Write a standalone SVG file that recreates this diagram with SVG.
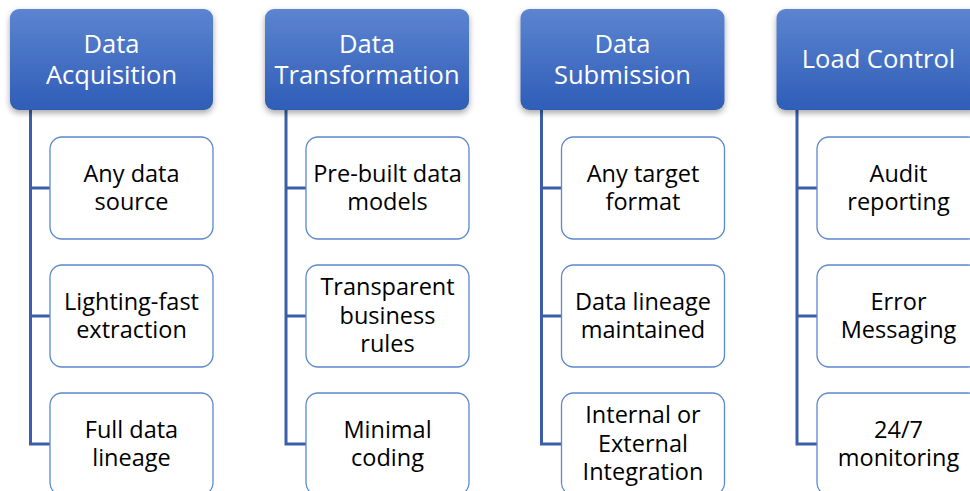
<svg xmlns="http://www.w3.org/2000/svg" width="970" height="491" viewBox="0 0 970 491">
<defs>
<linearGradient id="hg" x1="0" y1="0" x2="0" y2="1">
<stop offset="0" stop-color="#5C84D0"/>
<stop offset="1" stop-color="#2F5DB7"/>
</linearGradient>
<filter id="sh" x="-10%" y="-10%" width="120%" height="130%">
<feDropShadow dx="0" dy="3" stdDeviation="3" flood-color="#000" flood-opacity="0.35"/>
</filter>
<style>
.hd{fill:url(#hg);filter:url(#sh)}
.ch{fill:#fff;stroke:#5B87D3;stroke-width:1.3}
.ht{font-family:"Open Sans","Liberation Sans",sans-serif;font-size:25.5px;font-weight:400;fill:#fff;text-anchor:middle}
.ct{font-family:"Open Sans","Liberation Sans",sans-serif;font-size:23.5px;fill:#000;text-anchor:middle}
.cn{fill:none;stroke:#3A5FA8;stroke-width:3}
</style>
</defs>
<g id="connectors">
<path class="cn" d="M30.5 110V444M29 188H50M29 316H50M29 444H50"/>
<path class="cn" d="M286 110V444M284.5 188H306M284.5 316H306M284.5 444H306"/>
<path class="cn" d="M541.5 110V444M540 188H561M540 316H561M540 444H561"/>
<path class="cn" d="M797 110V444M795.5 188H817M795.5 316H817M795.5 444H817"/>
</g>
<g id="h1"><rect class="hd" x="10" y="9" width="203" height="101" rx="9"/><text class="ht" x="111.5" y="53">Data</text><text class="ht" x="111.5" y="84">Acquisition</text></g>
<g id="h2"><rect class="hd" x="265" y="9" width="204" height="101" rx="9"/><text class="ht" x="367" y="53">Data</text><text class="ht" x="367" y="84">Transformation</text></g>
<g id="h3"><rect class="hd" x="520.5" y="9" width="204" height="101" rx="9"/><text class="ht" x="622.5" y="53">Data</text><text class="ht" x="622.5" y="84">Submission</text></g>
<g id="h4"><rect class="hd" x="776.5" y="9" width="204" height="101" rx="9"/><text class="ht" x="878.5" y="68">Load Control</text></g>

<g id="c1a"><rect class="ch" x="50" y="137" width="163" height="102" rx="12"/><text class="ct" x="131.5" y="182">Any data</text><text class="ct" x="131.5" y="210">source</text></g>
<g id="c1b"><rect class="ch" x="50" y="265" width="163" height="102" rx="12"/><text class="ct" x="131.5" y="310">Lighting-fast</text><text class="ct" x="131.5" y="338">extraction</text></g>
<g id="c1c"><rect class="ch" x="50" y="393" width="163" height="102" rx="12"/><text class="ct" x="131.5" y="438">Full data</text><text class="ct" x="131.5" y="466">lineage</text></g>

<g id="c2a"><rect class="ch" x="306" y="137" width="163" height="102" rx="12"/><text class="ct" x="387.5" y="182">Pre-built data</text><text class="ct" x="387.5" y="210">models</text></g>
<g id="c2b"><rect class="ch" x="306" y="265" width="163" height="102" rx="12"/><text class="ct" x="387.5" y="295">Transparent</text><text class="ct" x="387.5" y="324">business</text><text class="ct" x="387.5" y="352">rules</text></g>
<g id="c2c"><rect class="ch" x="306" y="393" width="163" height="102" rx="12"/><text class="ct" x="387.5" y="438">Minimal</text><text class="ct" x="387.5" y="466">coding</text></g>

<g id="c3a"><rect class="ch" x="561.5" y="137" width="163" height="102" rx="12"/><text class="ct" x="643" y="182">Any target</text><text class="ct" x="643" y="210">format</text></g>
<g id="c3b"><rect class="ch" x="561.5" y="265" width="163" height="102" rx="12"/><text class="ct" x="643" y="310">Data lineage</text><text class="ct" x="643" y="338">maintained</text></g>
<g id="c3c"><rect class="ch" x="561.5" y="393" width="163" height="102" rx="12"/><text class="ct" x="643" y="423">Internal or</text><text class="ct" x="643" y="452">External</text><text class="ct" x="643" y="480">Integration</text></g>

<g id="c4a"><rect class="ch" x="817" y="137" width="163" height="102" rx="12"/><text class="ct" x="898.5" y="182">Audit</text><text class="ct" x="898.5" y="210">reporting</text></g>
<g id="c4b"><rect class="ch" x="817" y="265" width="163" height="102" rx="12"/><text class="ct" x="898.5" y="310">Error</text><text class="ct" x="898.5" y="338">Messaging</text></g>
<g id="c4c"><rect class="ch" x="817" y="393" width="163" height="102" rx="12"/><text class="ct" x="898.5" y="438">24/7</text><text class="ct" x="898.5" y="466">monitoring</text></g>
</svg>
